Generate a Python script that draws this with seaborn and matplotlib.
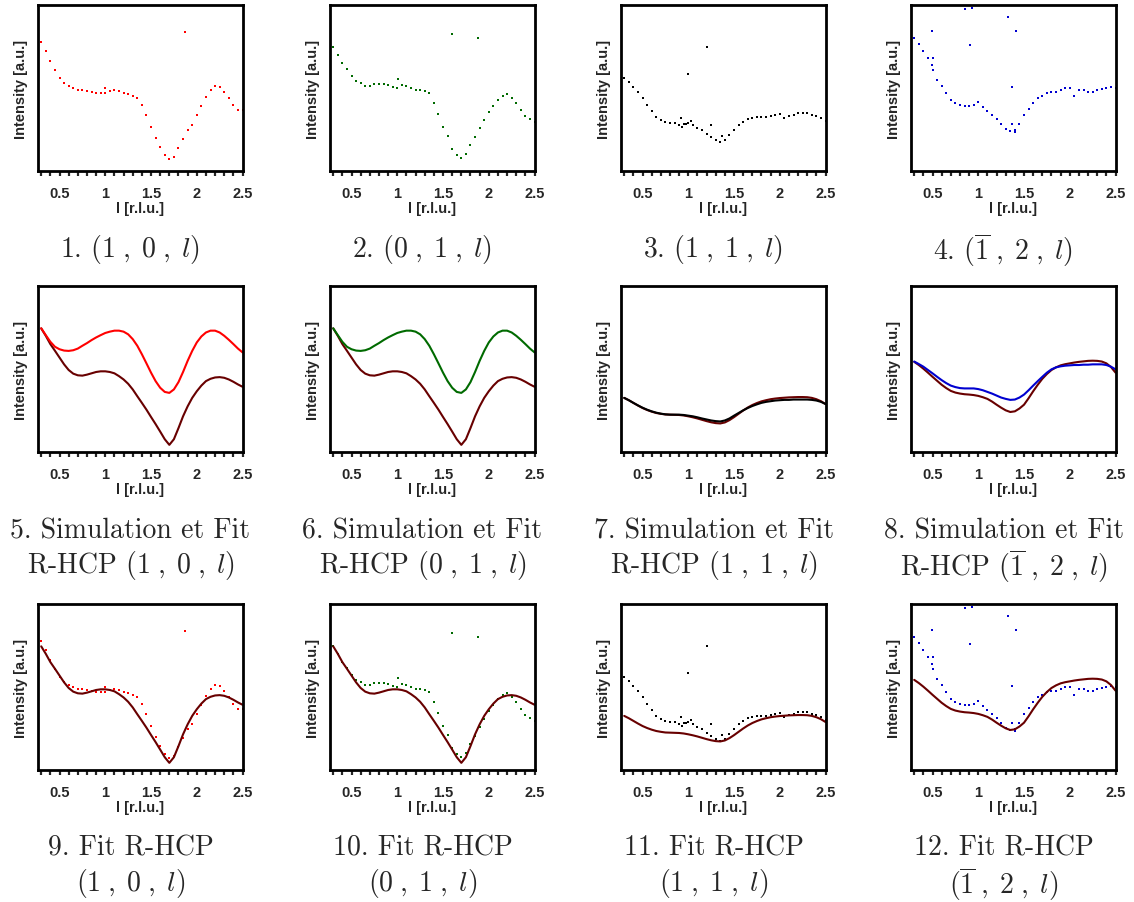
import numpy as np
import matplotlib
matplotlib.use("Agg")
import matplotlib.pyplot as plt
from matplotlib.ticker import FixedLocator, FixedFormatter
import seaborn as sns

# l grid, step 0.05 (intensity normalised to the panel height)
l_vals = [0.30, 0.35, 0.40, 0.45, 0.50, 0.55, 0.60, 0.65, 0.70, 0.75,
          0.80, 0.85, 0.90, 0.95, 1.00, 1.05, 1.10, 1.15, 1.20, 1.25,
          1.30, 1.35, 1.40, 1.45, 1.50, 1.55, 1.60, 1.65, 1.70, 1.75,
          1.80, 1.85, 1.90, 1.95, 2.00, 2.05, 2.10, 2.15, 2.20, 2.25,
          2.30, 2.35, 2.40, 2.45, 2.50]

# measured rods
meas_10 = [0.78, 0.72, 0.66, 0.61, 0.56, 0.53, 0.51, 0.50, 0.49, 0.485,
           0.48, 0.475, 0.47, 0.47, 0.47, 0.48, 0.49, 0.48, 0.47, 0.465,
           0.45, 0.44, 0.397, 0.336, 0.265, 0.198, 0.144, 0.097, 0.073, 0.083,
           0.138, 0.194, 0.245, 0.275, 0.336, 0.393, 0.447, 0.488, 0.512, 0.508,
           0.474, 0.437, 0.397, 0.37, 0.366]
out_10_l = [1.87, 1.00]
out_10_i = [0.84, 0.50]

meas_01 = [0.745, 0.70, 0.65, 0.615, 0.57, 0.54, 0.528, 0.514, 0.512, 0.522,
           0.526, 0.524, 0.518, 0.508, 0.50, 0.518, 0.512, 0.50, 0.49, 0.488,
           0.484, 0.468, 0.407, 0.346, 0.265, 0.21, 0.134, 0.097, 0.079, 0.103,
           0.154, 0.204, 0.26, 0.306, 0.356, 0.393, 0.427, 0.453, 0.464, 0.441,
           0.407, 0.366, 0.332, 0.312, 0.296]
out_01_l = [1.60, 1.88, 1.01]
out_01_i = [0.828, 0.804, 0.555]

meas_11 = [0.563, 0.534, 0.508, 0.478, 0.437, 0.40, 0.36, 0.326, 0.306, 0.296,
           0.29, 0.287, 0.279, 0.285, 0.29, 0.275, 0.259, 0.245, 0.225, 0.204,
           0.184, 0.174, 0.184, 0.215, 0.249, 0.275, 0.296, 0.312, 0.322, 0.326,
           0.326, 0.328, 0.33, 0.34, 0.346, 0.32, 0.332, 0.34, 0.348, 0.35,
           0.348, 0.34, 0.33, 0.32, 0.30]
out_11_l = [1.00, 1.20, 0.92, 0.93, 0.97, 1.03, 1.25, 1.37]
out_11_i = [0.585, 0.749, 0.32, 0.265, 0.285, 0.30, 0.28, 0.21]

meas_m12 = [0.80, 0.765, 0.72, 0.68, 0.61, 0.55, 0.51, 0.468, 0.43, 0.41,
            0.397, 0.39, 0.393, 0.397, 0.413, 0.387, 0.36, 0.34, 0.316, 0.285,
            0.255, 0.239, 0.245, 0.285, 0.336, 0.376, 0.407, 0.437, 0.453, 0.468,
            0.474, 0.478, 0.488, 0.498, 0.502, 0.453, 0.488, 0.488, 0.478, 0.478,
            0.488, 0.494, 0.502, 0.504, 0.498]
out_m12_l = [0.49, 0.51, 0.49, 0.86, 0.93, 0.91, 1.33, 1.41, 1.37, 1.37, 1.40]
out_m12_i = [0.846, 0.68, 0.64, 0.974, 0.984, 0.761, 0.929, 0.846, 0.504, 0.285, 0.235]

# simulated and fitted R-HCP curves
sim_10 = [0.745, 0.704, 0.664, 0.634, 0.619, 0.611, 0.609, 0.613, 0.623, 0.64,
          0.656, 0.674, 0.69, 0.704, 0.717, 0.725, 0.731, 0.731, 0.725, 0.709,
          0.68, 0.64, 0.589, 0.534, 0.478, 0.427, 0.387, 0.362, 0.356, 0.377,
          0.421, 0.482, 0.549, 0.609, 0.66, 0.696, 0.72, 0.731, 0.731, 0.72,
          0.70, 0.676, 0.65, 0.623, 0.60]
fit_10 = [0.745, 0.70, 0.65, 0.61, 0.569, 0.528, 0.494, 0.472, 0.462, 0.46,
          0.466, 0.474, 0.482, 0.486, 0.486, 0.482, 0.474, 0.457, 0.437, 0.411,
          0.377, 0.336, 0.296, 0.255, 0.211, 0.168, 0.123, 0.077, 0.043, 0.077,
          0.144, 0.215, 0.275, 0.326, 0.366, 0.40, 0.427, 0.441, 0.449, 0.451,
          0.447, 0.437, 0.423, 0.407, 0.393]

sim_11 = [0.326, 0.312, 0.296, 0.281, 0.267, 0.255, 0.245, 0.237, 0.231, 0.227,
          0.225, 0.225, 0.225, 0.223, 0.219, 0.215, 0.209, 0.202, 0.196, 0.19,
          0.186, 0.184, 0.19, 0.202, 0.219, 0.235, 0.251, 0.265, 0.277, 0.287,
          0.296, 0.302, 0.306, 0.31, 0.312, 0.314, 0.314, 0.316, 0.316, 0.316,
          0.316, 0.314, 0.31, 0.302, 0.289]
fit_11 = [0.326, 0.312, 0.296, 0.28, 0.265, 0.253, 0.243, 0.235, 0.23, 0.226,
          0.225, 0.224, 0.223, 0.22, 0.215, 0.209, 0.202, 0.194, 0.186, 0.179,
          0.174, 0.172, 0.178, 0.192, 0.21, 0.23, 0.25, 0.268, 0.283, 0.295,
          0.305, 0.312, 0.318, 0.322, 0.325, 0.327, 0.329, 0.33, 0.331, 0.331,
          0.33, 0.326, 0.318, 0.306, 0.289]

sim_m12 = [0.545, 0.53, 0.514, 0.494, 0.474, 0.453, 0.433, 0.415, 0.40, 0.391,
           0.385, 0.383, 0.383, 0.383, 0.379, 0.372, 0.362, 0.352, 0.34, 0.328,
           0.32, 0.314, 0.316, 0.328, 0.346, 0.372, 0.40, 0.427, 0.453, 0.478,
           0.498, 0.51, 0.516, 0.52, 0.522, 0.524, 0.524, 0.526, 0.526, 0.528,
           0.528, 0.528, 0.524, 0.514, 0.498]
fit_m12 = [0.543, 0.524, 0.502, 0.478, 0.453, 0.429, 0.405, 0.385, 0.368, 0.358,
           0.352, 0.348, 0.346, 0.343, 0.338, 0.33, 0.32, 0.304, 0.285, 0.267,
           0.251, 0.241, 0.245, 0.262, 0.285, 0.324, 0.366, 0.405, 0.441, 0.47,
           0.494, 0.51, 0.522, 0.529, 0.534, 0.539, 0.543, 0.546, 0.549, 0.55,
           0.549, 0.545, 0.534, 0.512, 0.478]

hkl = [r"$(1\;,\;0\;,\;l)$", r"$(0\;,\;1\;,\;l)$",
       r"$(1\;,\;1\;,\;l)$", r"$(\overline{1}\;,\;2\;,\;l)$"]
colors = ["#ff0000", "#006a00", "#000000", "#0000d0"]
fit_color = "#680000"

measured = [(meas_10, out_10_l, out_10_i), (meas_01, out_01_l, out_01_i),
            (meas_11, out_11_l, out_11_i), (meas_m12, out_m12_l, out_m12_i)]
simulated = [sim_10, sim_10, sim_11, sim_m12]
fitted = [fit_10, fit_10, fit_11, fit_m12]

sns.set_style("ticks")
plt.rcParams['font.family'] = ['Liberation Sans', 'DejaVu Sans']
plt.rcParams['mathtext.fontset'] = 'cm'

W, H = 1134, 903
fig = plt.figure(figsize=(W / 100, H / 100), dpi=100)

col_left = [38, 330, 621, 911]
row_top = [6, 287, 605]
aw, ah = 205, 166


def style_axes(ax):
    ax.set_xlim(0.265, 2.505)
    ax.set_ylim(0, 1)
    ax.set_yticks([])
    ax.xaxis.set_major_locator(FixedLocator([0.5, 1.0, 1.5, 2.0, 2.5]))
    ax.xaxis.set_major_formatter(FixedFormatter(["0.5", "1", "1.5", "2", "2.5"]))
    ax.xaxis.set_minor_locator(FixedLocator([0.3, 0.4, 0.6, 0.7, 0.8, 0.9, 1.1, 1.2, 1.3, 1.4,
                                             1.6, 1.7, 1.8, 1.9, 2.1, 2.2, 2.3, 2.4]))
    ax.tick_params(axis='x', which='both', direction='out', length=3.5, width=1.6,
                   labelsize=10.5, pad=7)
    for t in ax.get_xticklabels():
        t.set_fontweight('bold')
    for s in ax.spines.values():
        s.set_visible(True)
        s.set_linewidth(2.0)
        s.set_color('black')
    ax.set_xlabel("l [r.l.u.]", fontsize=10.5, fontweight='bold', labelpad=1)
    ax.set_ylabel("Intensity [a.u.]", fontsize=10.5, fontweight='bold', labelpad=7)


def make_ax(r, c):
    return fig.add_axes([col_left[c] / W, 1 - (row_top[r] + ah) / H, aw / W, ah / H])


def caption(c, y, txt):
    fig.text((col_left[c] + aw / 2 - 10) / W, 1 - y / H, txt, ha='center', va='center',
             fontsize=20, fontfamily='cmr10')


def scatter_meas(ax, c):
    vals, ol, oi = measured[c]
    xs = list(l_vals) + list(ol)
    ys = list(vals) + list(oi)
    sns.scatterplot(x=xs, y=ys, ax=ax, color=colors[c], marker='s', s=3.8,
                    linewidth=0, legend=False)


for c in range(4):
    # row 1: measured
    ax = make_ax(0, c)
    scatter_meas(ax, c)
    style_axes(ax)
    caption(c, 250, f"{c + 1}. " + hkl[c])

    # row 2: simulation and fit
    ax = make_ax(1, c)
    sns.lineplot(x=l_vals, y=fitted[c], ax=ax, color=fit_color, lw=1.5)
    sns.lineplot(x=l_vals, y=simulated[c], ax=ax, color=colors[c], lw=1.5)
    style_axes(ax)
    caption(c, 531, f"{c + 5}. Simulation et Fit")
    caption(c, 566, "R-HCP " + hkl[c])

    # row 3: fit over measured
    ax = make_ax(2, c)
    scatter_meas(ax, c)
    sns.lineplot(x=l_vals, y=fitted[c], ax=ax, color=fit_color, lw=1.5)
    style_axes(ax)
    caption(c, 848, f"{c + 9}. Fit R-HCP")
    caption(c, 884, hkl[c])

fig.savefig("out.png", dpi=100)
